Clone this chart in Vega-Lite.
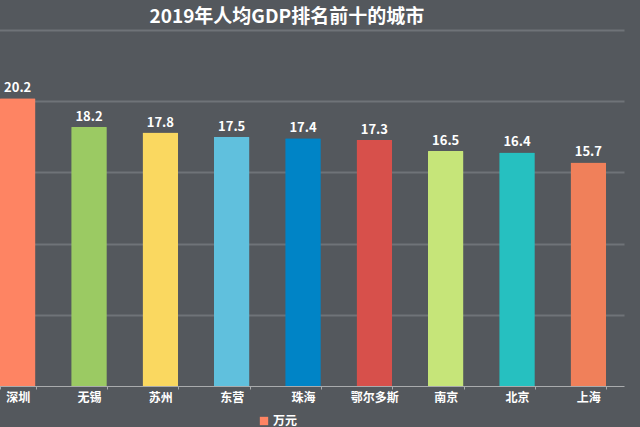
{
  "$schema": "https://vega.github.io/schema/vega-lite/v6.json",
  "autosize": "none",
  "width": 640,
  "height": 356,
  "padding": {"top": 30, "left": 0, "right": 0, "bottom": 41},
  "background": "#54585d",
  "title": {
    "text": "2019年人均GDP排名前十的城市",
    "anchor": "start",
    "dx": 150,
    "offset": 3,
    "font": "Noto Sans CJK SC",
    "fontSize": 19,
    "fontWeight": "bold",
    "color": "#ffffff"
  },
  "config": {
    "view": {"stroke": null},
    "font": "Noto Sans CJK SC"
  },
  "data": {
    "values": [
      {"city": "深圳", "value": 20.2, "unit": "万元"},
      {"city": "无锡", "value": 18.2, "unit": "万元"},
      {"city": "苏州", "value": 17.8, "unit": "万元"},
      {"city": "东营", "value": 17.5, "unit": "万元"},
      {"city": "珠海", "value": 17.4, "unit": "万元"},
      {"city": "鄂尔多斯", "value": 17.3, "unit": "万元"},
      {"city": "南京", "value": 16.5, "unit": "万元"},
      {"city": "北京", "value": 16.4, "unit": "万元"},
      {"city": "上海", "value": 15.7, "unit": "万元"}
    ]
  },
  "encoding": {
    "x": {
      "field": "city",
      "type": "nominal",
      "sort": null,
      "scale": {"range": [-18, 624], "paddingInner": 0.5, "paddingOuter": 0.25},
      "axis": {
        "title": null,
        "labelAngle": 0,
        "labelColor": "#ffffff",
        "labelFont": "Noto Sans CJK SC",
        "labelFontSize": 12,
        "labelFontWeight": "bold",
        "labelPadding": 3,
        "domainColor": "#a9abad",
        "domainWidth": 1,
        "tickColor": "#a9abad",
        "tickSize": 3,
        "tickBand": "extent",
        "grid": false
      }
    },
    "y": {
      "field": "value",
      "type": "quantitative",
      "scale": {"domain": [0, 25]},
      "axis": {
        "title": null,
        "labels": false,
        "ticks": false,
        "domain": false,
        "values": [5, 10, 15, 20, 25],
        "gridColor": "#6f7378",
        "gridWidth": 2
      }
    }
  },
  "layer": [
    {
      "mark": {"type": "bar", "cornerRadiusTopLeft": 1, "cornerRadiusTopRight": 1},
      "encoding": {
        "fill": {
          "field": "city",
          "type": "nominal",
          "sort": null,
          "scale": {
            "domain": ["深圳", "无锡", "苏州", "东营", "珠海", "鄂尔多斯", "南京", "北京", "上海"],
            "range": ["#fe8463", "#9bca63", "#fad860", "#60c0dd", "#0084c6", "#d7504b", "#c6e579", "#26c0c0", "#f0805a"]
          },
          "legend": null
        }
      }
    },
    {
      "mark": {"type": "text", "baseline": "bottom", "dy": -3, "fontSize": 13, "fontWeight": "bold", "font": "Noto Sans CJK SC", "fill": "#ffffff"},
      "encoding": {
        "text": {"field": "value", "type": "quantitative", "format": ".1f"}
      }
    },
    {
      "mark": {"type": "text", "text": ""},
      "encoding": {
        "color": {
          "field": "unit",
          "type": "nominal",
          "scale": {"range": ["#fe8463"]},
          "legend": {
            "title": null,
            "orient": "none",
            "legendX": 258,
            "legendY": 385,
            "symbolType": "square",
            "symbolSize": 70,
            "symbolStrokeWidth": 0,
            "symbolOpacity": 1,
            "labelColor": "#ffffff",
            "labelFont": "Noto Sans CJK SC",
            "labelFontSize": 12,
            "labelFontWeight": "bold",
            "labelOffset": 3
          }
        }
      }
    }
  ]
}
